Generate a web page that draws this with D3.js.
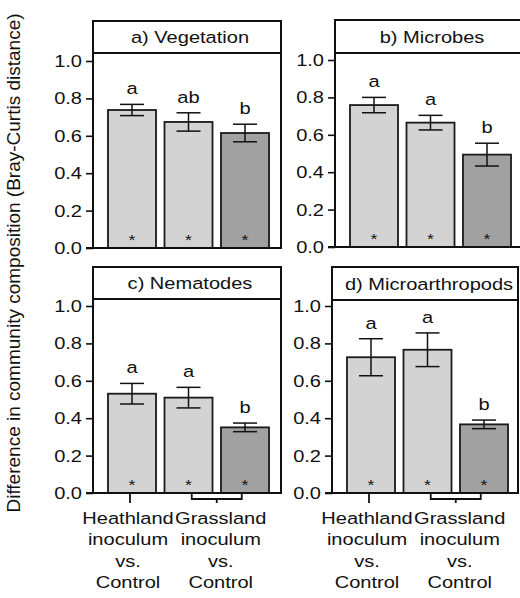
<!DOCTYPE html>
<html>
<head>
<meta charset="utf-8">
<script src="https://cdn.jsdelivr.net/npm/d3@7"></script>
<style>
  html, body { margin: 0; padding: 0; background: #fff; }
  svg { display: block; }
  text { font-family: "Liberation Sans", Arial, Helvetica, sans-serif; fill: #111; }
</style>
</head>
<body>
<svg id="chart" width="520" height="598"></svg>
<script>
// ---- data ----
const panelTitles = ["a) Vegetation", "b) Microbes", "c) Nematodes", "d) Microarthropods"];
const comparisons = ["Heathland inoculum vs. Control", "Grassland inoculum vs. Control", "Grassland inoculum vs. Control (b)"];
const barShade = ["light", "light", "dark"];

const vegetationMean = [0.738, 0.674, 0.615];
const vegetationSE   = [0.030, 0.049, 0.047];
const vegetationLetters = ["a", "ab", "b"];

const microbesMean = [0.759, 0.665, 0.494];
const microbesSE   = [0.041, 0.039, 0.061];
const microbesLetters = ["a", "a", "b"];

const nematodesMean = [0.531, 0.510, 0.351];
const nematodesSE   = [0.055, 0.055, 0.023];
const nematodesLetters = ["a", "a", "b"];

const microarthropodsMean = [0.726, 0.766, 0.367];
const microarthropodsSE   = [0.099, 0.090, 0.023];
const microarthropodsLetters = ["a", "a", "b"];

const yTicks = [0, 0.2, 0.4, 0.6, 0.8, 1.0];
const xLabelHeathland = ["Heathland", "inoculum", "vs.", "Control"];
const xLabelGrassland = ["Grassland", "inoculum", "vs.", "Control"];
const yTitle = "Difference in community composition (Bray-Curtis distance)";

// ---- layout ----
const FS = 17;          // base font size
const SX = 1.18;        // horizontal text stretch
const colors = { light: "#d3d3d3", dark: "#a1a1a1" };

const panels = [
  { title: panelTitles[0], mean: vegetationMean, se: vegetationSE, letters: vegetationLetters,
    x0: 93, w: 188, top: 21, head: 53, yZero: 248, yOne: 61, xAxis: false },
  { title: panelTitles[1], mean: microbesMean, se: microbesSE, letters: microbesLetters,
    x0: 335, w: 194, top: 20, head: 53, yZero: 247, yOne: 60, xAxis: false },
  { title: panelTitles[2], mean: nematodesMean, se: nematodesSE, letters: nematodesLetters,
    x0: 93, w: 188, top: 267, head: 299, yZero: 493, yOne: 306, xAxis: true },
  { title: panelTitles[3], mean: microarthropodsMean, se: microarthropodsSE, letters: microarthropodsLetters,
    x0: 332, w: 186, top: 267, head: 300, yZero: 493, yOne: 306, xAxis: true }
];

const svg = d3.select("#chart");

// text helper with a slight horizontal stretch
function label(g, x, y, str, anchor, size) {
  return g.append("text")
    .attr("transform", `translate(${x},${y}) scale(${SX},1)`)
    .attr("text-anchor", anchor || "middle")
    .style("font-size", (size || FS) + "px")
    .text(str);
}

panels.forEach(p => {
  const g = svg.append("g");
  const y = d3.scaleLinear().domain([0, 1]).range([p.yZero, p.yOne]);
  const x = d3.scaleBand()
    .domain(comparisons)
    .range([p.x0 + 10.75, p.x0 + 10.75 + 169.5])
    .paddingInner(0.15)
    .paddingOuter(0.075);
  const x1 = p.x0 + p.w;

  // y axis ticks + labels
  const yAxis = d3.axisLeft(y).tickValues(yTicks).tickFormat(d3.format(".1f")).tickSize(7).tickPadding(4);
  const ax = g.append("g").attr("transform", `translate(${p.x0},0)`).call(yAxis);
  ax.select(".domain").remove();
  ax.selectAll("line").attr("stroke", "#111").attr("stroke-width", 1.6);
  ax.selectAll("text").remove();
  yTicks.forEach(t => {
    label(g, p.x0 - 11, y(t) + 6, d3.format(".1f")(t), "end");
  });

  // bars
  const data = comparisons.map((c, i) => ({ c, m: p.mean[i], s: p.se[i], l: p.letters[i], shade: barShade[i] }));
  g.selectAll("rect.bar").data(data).join("rect")
    .attr("class", "bar")
    .attr("x", d => x(d.c))
    .attr("y", d => y(d.m))
    .attr("width", x.bandwidth())
    .attr("height", d => y(0) - y(d.m))
    .attr("fill", d => colors[d.shade])
    .attr("stroke", "#1a1a1a")
    .attr("stroke-width", 1.8);

  // error bars
  const cap = 12;
  data.forEach(d => {
    const cx = x(d.c) + x.bandwidth() / 2;
    const yt = y(d.m + d.s), yb = y(d.m - d.s);
    g.append("line").attr("x1", cx).attr("x2", cx).attr("y1", yt).attr("y2", yb)
      .attr("stroke", "#111").attr("stroke-width", 1.5);
    [yt, yb].forEach(yy => g.append("line").attr("x1", cx - cap).attr("x2", cx + cap)
      .attr("y1", yy).attr("y2", yy).attr("stroke", "#111").attr("stroke-width", 1.5));
    // significance letter
    label(g, cx, yt - 10, d.l, "middle");
    // asterisk at the bar foot
    label(g, cx, y(0) - 3, "*", "middle", 15);
  });

  // panel frame + header strip
  g.append("rect").attr("x", p.x0).attr("y", p.top).attr("width", p.w).attr("height", p.yZero - p.top)
    .attr("fill", "none").attr("stroke", "#111").attr("stroke-width", 2);
  g.append("line").attr("x1", p.x0).attr("x2", x1).attr("y1", p.head).attr("y2", p.head)
    .attr("stroke", "#111").attr("stroke-width", 2);
  // baseline extends to the tick
  g.append("line").attr("x1", p.x0 - 7).attr("x2", x1).attr("y1", p.yZero).attr("y2", p.yZero)
    .attr("stroke", "#111").attr("stroke-width", 2);
  label(g, p.x0 + 94 + 3, (p.top + p.head) / 2 + 6, p.title, "middle");

  // category axis with bracket under the last two bars
  if (p.xAxis) {
    const c0 = x(comparisons[0]) + x.bandwidth() / 2 - 2;
    const c1 = x(comparisons[1]) + x.bandwidth() / 2;
    const c2 = x(comparisons[2]) + x.bandwidth() / 2;
    const mid = (c1 + c2) / 2;
    const yb = p.yZero + 6, ye = p.yZero + 10;
    const st = { stroke: "#111", "stroke-width": 1.8, fill: "none" };
    const line = (pts) => {
      const el = g.append("path").attr("d", d3.line()(pts));
      Object.entries(st).forEach(([k, v]) => el.attr(k, v));
    };
    line([[c0, p.yZero], [c0, ye]]);
    line([[mid - 25, p.yZero], [mid - 25, yb], [mid + 25, yb], [mid + 25, p.yZero]]);
    line([[mid, yb], [mid, ye]]);
    const baseY = [524, 545, 567, 588];
    xLabelHeathland.forEach((s, i) => label(g, c0 - 2, baseY[i], s, "middle"));
    xLabelGrassland.forEach((s, i) => label(g, mid + 4, baseY[i], s, "middle"));
  }
});

// shared y title
svg.append("text")
  .attr("transform", "translate(20,263) rotate(-90)")
  .attr("text-anchor", "middle")
  .style("font-size", "19px")
  .text(yTitle);
</script>
</body>
</html>
